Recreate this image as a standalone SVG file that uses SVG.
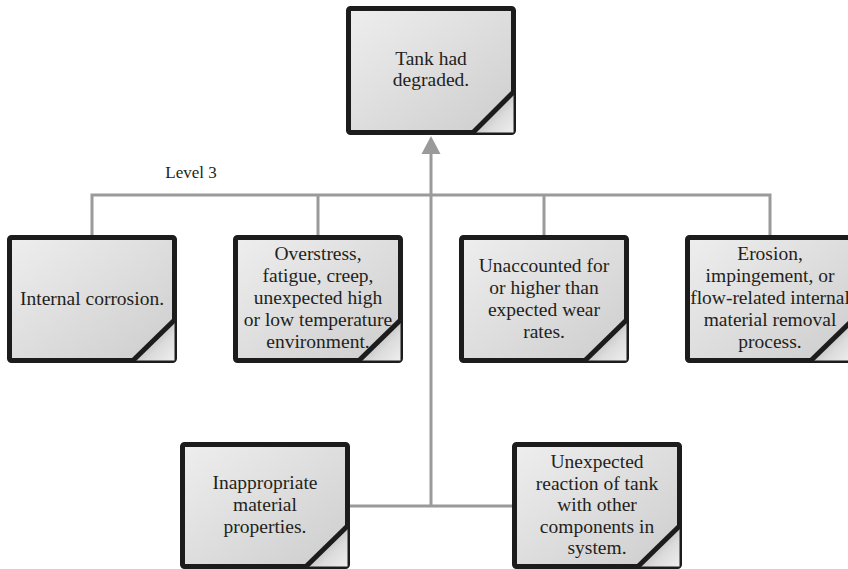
<svg xmlns="http://www.w3.org/2000/svg" width="848" height="569" viewBox="0 0 848 569">
  <style>
    .box { fill: url(#boxFill); stroke: #1c1c1c; stroke-width: 5; }
    .fold { fill: url(#foldFill); stroke: none; }
    .crease { stroke: #1c1c1c; stroke-width: 5; fill: none; }
    .lbl { font-family: 'Liberation Serif', 'DejaVu Serif', serif; font-size: 19.5px; fill: #231f20; text-anchor: middle; }
    .link { stroke: #9a9a9a; stroke-width: 3; fill: none; }
  </style>
  <defs>
    <linearGradient id="boxFill" x1="0" y1="0" x2="1" y2="1">
      <stop offset="0" stop-color="#eeeeee"/>
      <stop offset="1" stop-color="#cdcdcd"/>
    </linearGradient>
    <linearGradient id="foldFill" x1="0.25" y1="0.25" x2="1" y2="1">
      <stop offset="0" stop-color="#a9a9a9"/>
      <stop offset="0.55" stop-color="#dcdcdc"/>
      <stop offset="1" stop-color="#eeeeee"/>
    </linearGradient>
  </defs>

  <!-- connectors -->
  <g id="connectors">
    <path class="link" d="M92,235 V195 H770 V235"/>
    <path class="link" d="M318,195 V235"/>
    <path class="link" d="M544,195 V235"/>
    <path class="link" d="M431,506 V152"/>
    <path class="link" d="M349,506 H512"/>
    <polygon points="431,136 421.5,154 440.5,154" fill="#9a9a9a"/>
  </g>

  <g font-family="Liberation Serif, DejaVu Serif, serif">
  <!-- top event -->
  <g id="tank-degraded" transform="translate(346,6)">
    <rect class="box" x="2.5" y="2.5" width="165" height="124" rx="2"/>
    <path class="fold" d="M167.5,86 V126.5 H127 Z"/>
    <path class="crease" d="M127,126.5 L167.5,86"/>
    <text class="lbl" x="85" y="58.5">Tank had</text>
    <text class="lbl" x="85" y="80">degraded.</text>
  </g>

  <text class="lbl" x="191" y="178" style="font-size:17px">Level 3</text>

  <g id="internal-corrosion" transform="translate(7,235)">
    <rect class="box" x="2.5" y="2.5" width="165" height="123" rx="2"/>
    <path class="fold" d="M167.5,85 V125.5 H126 Z"/>
    <path class="crease" d="M126,125.5 L167.5,85"/>
    <text class="lbl" x="85" y="70">Internal corrosion.</text>
  </g>

  <g id="overstress" transform="translate(233,235)">
    <rect class="box" x="2.5" y="2.5" width="165" height="123" rx="2"/>
    <path class="fold" d="M167.5,85 V125.5 H126 Z"/>
    <path class="crease" d="M126,125.5 L167.5,85"/>
    <text class="lbl" x="85" y="25">Overstress,</text>
    <text class="lbl" x="85" y="47">fatigue, creep,</text>
    <text class="lbl" x="85" y="69">unexpected high</text>
    <text class="lbl" x="85" y="91">or low temperature</text>
    <text class="lbl" x="85" y="113">environment.</text>
  </g>

  <g id="wear-rates" transform="translate(459,235)">
    <rect class="box" x="2.5" y="2.5" width="165" height="123" rx="2"/>
    <path class="fold" d="M167.5,85 V125.5 H126 Z"/>
    <path class="crease" d="M126,125.5 L167.5,85"/>
    <text class="lbl" x="85" y="37">Unaccounted for</text>
    <text class="lbl" x="85" y="59">or higher than</text>
    <text class="lbl" x="85" y="81">expected wear</text>
    <text class="lbl" x="85" y="103">rates.</text>
  </g>

  <g id="erosion" transform="translate(685,235)">
    <rect class="box" x="2.5" y="2.5" width="165" height="123" rx="2"/>
    <path class="fold" d="M167.5,85 V125.5 H126 Z"/>
    <path class="crease" d="M126,125.5 L167.5,85"/>
    <text class="lbl" x="85" y="25">Erosion,</text>
    <text class="lbl" x="85" y="47">impingement, or</text>
    <text class="lbl" x="85" y="69">flow-related internal</text>
    <text class="lbl" x="85" y="91">material removal</text>
    <text class="lbl" x="85" y="113">process.</text>
  </g>

  <g id="material-properties" transform="translate(180,442)">
    <rect class="box" x="2.5" y="2.5" width="165" height="122" rx="2"/>
    <path class="fold" d="M167.5,84 V124.5 H126 Z"/>
    <path class="crease" d="M126,124.5 L167.5,84"/>
    <text class="lbl" x="85" y="47">Inappropriate</text>
    <text class="lbl" x="85" y="69">material</text>
    <text class="lbl" x="85" y="91">properties.</text>
  </g>

  <g id="unexpected-reaction" transform="translate(512,442)">
    <rect class="box" x="2.5" y="2.5" width="165" height="122" rx="2"/>
    <path class="fold" d="M167.5,84 V124.5 H126 Z"/>
    <path class="crease" d="M126,124.5 L167.5,84"/>
    <text class="lbl" x="85" y="26">Unexpected</text>
    <text class="lbl" x="85" y="47.5">reaction of tank</text>
    <text class="lbl" x="85" y="69">with other</text>
    <text class="lbl" x="85" y="90.5">components in</text>
    <text class="lbl" x="85" y="112">system.</text>
  </g>
  </g>
</svg>
